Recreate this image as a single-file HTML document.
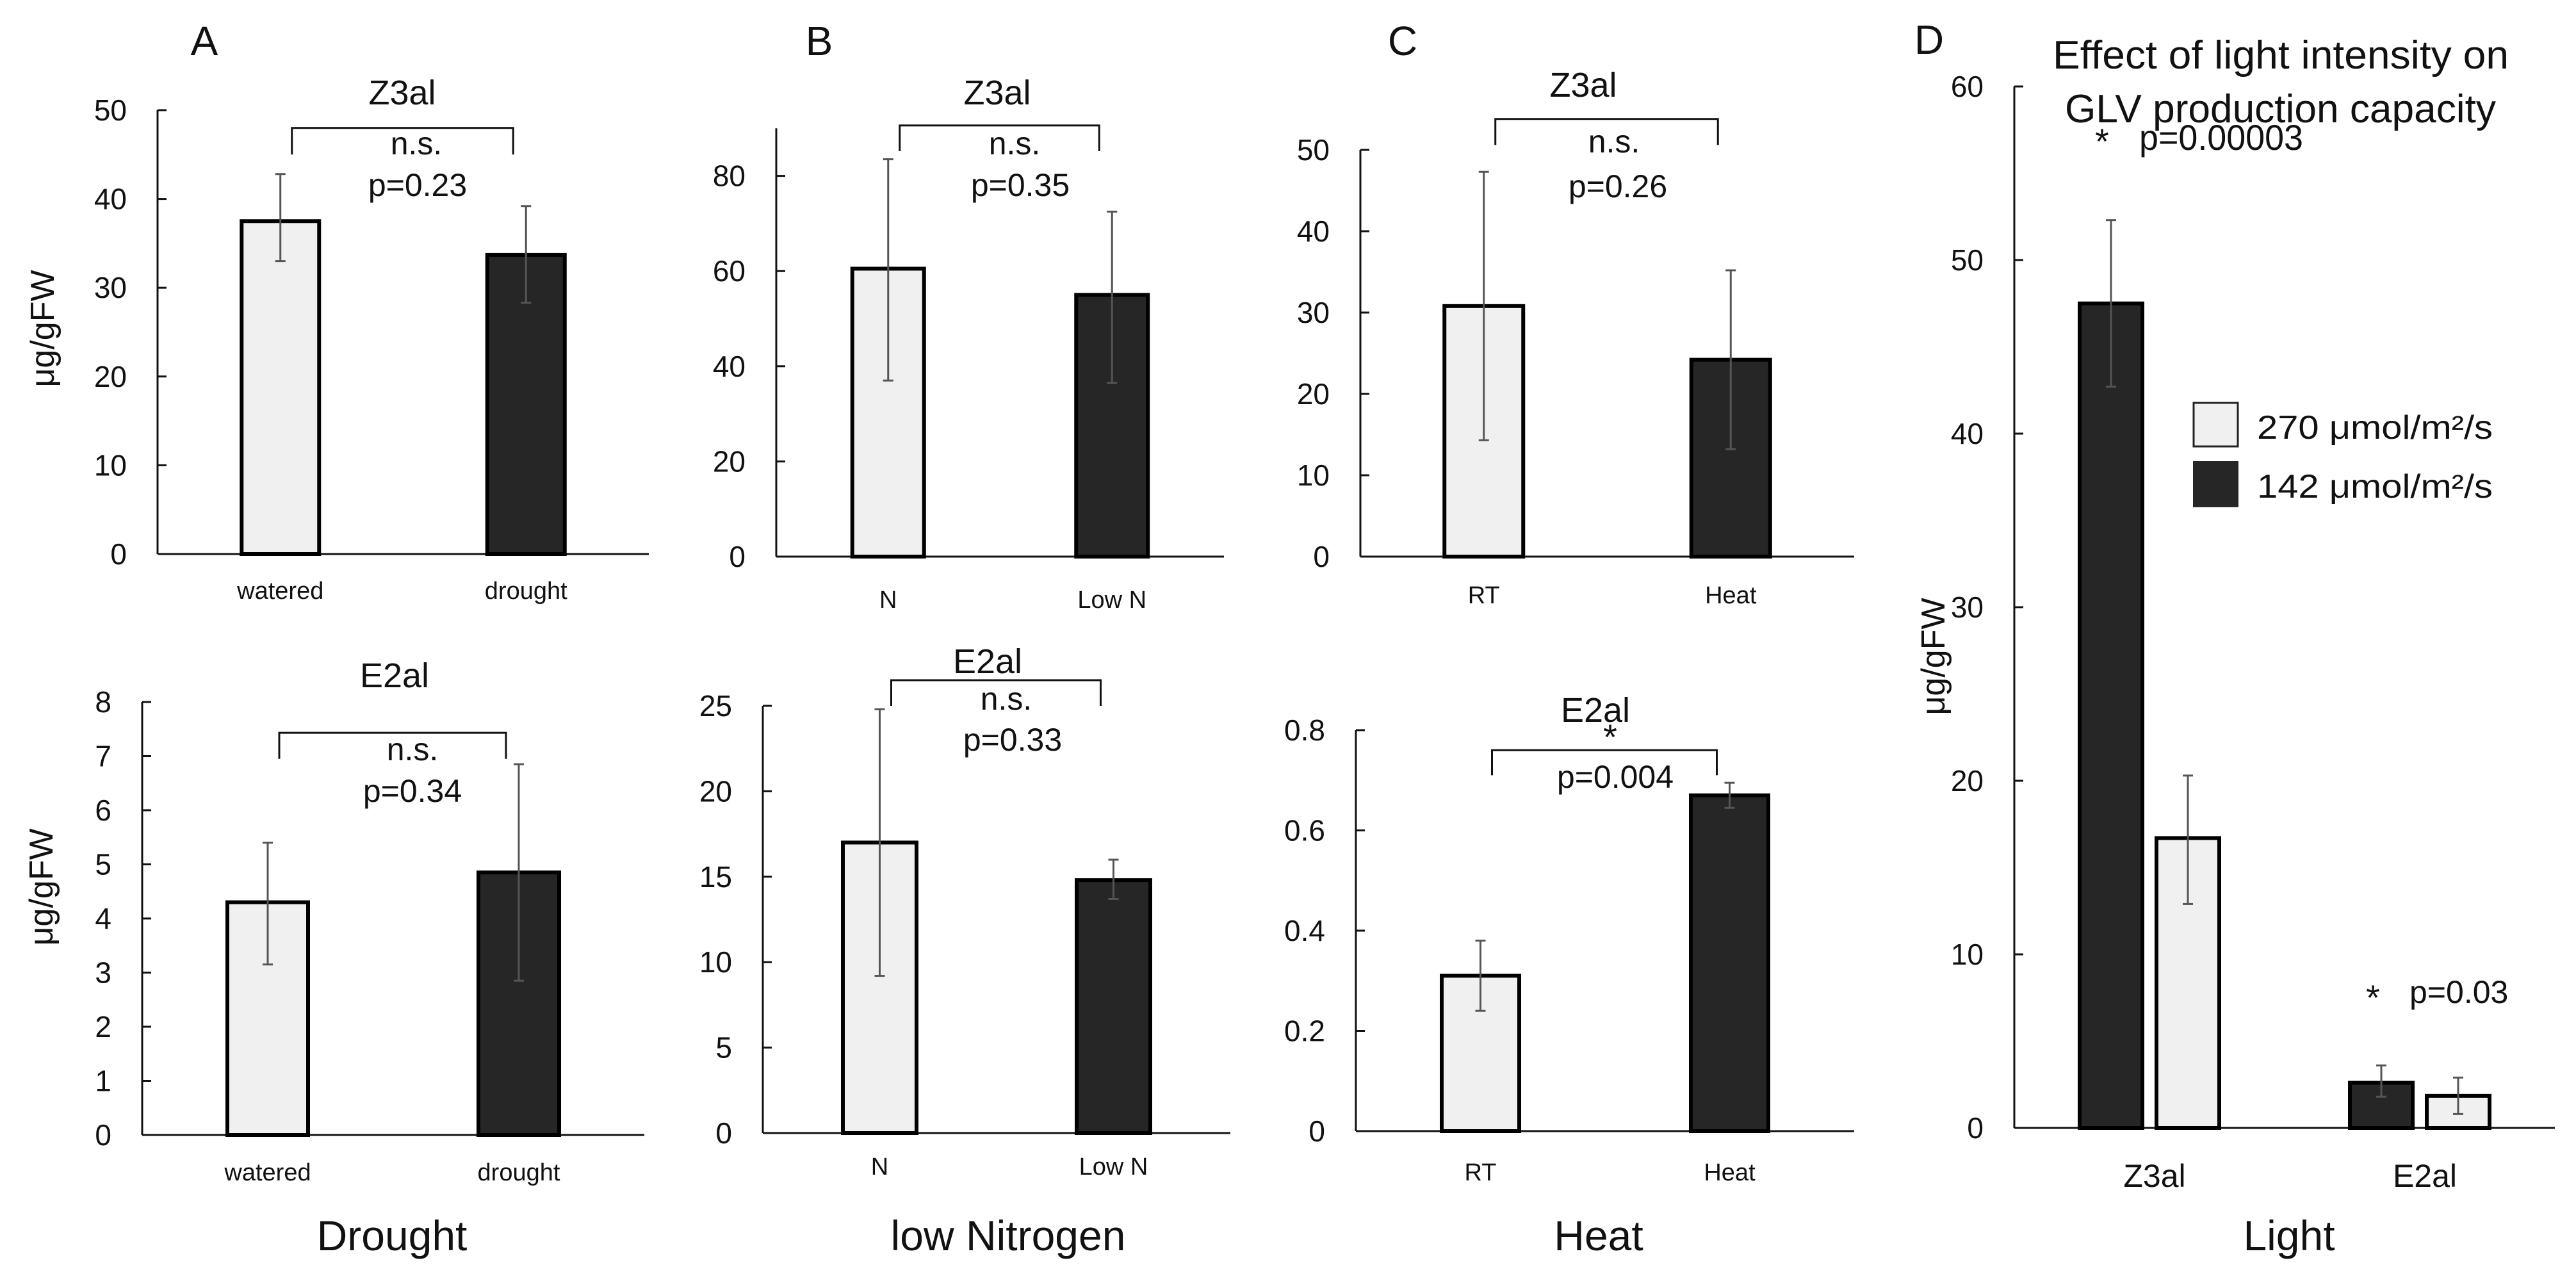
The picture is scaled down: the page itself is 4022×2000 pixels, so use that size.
<!DOCTYPE html>
<html><head><meta charset="utf-8"><style>
html,body{margin:0;padding:0;background:#fff}
svg{display:block}
text{font-family:"Liberation Sans",sans-serif;fill:#111}
</style></head><body>
<svg id="fig" width="4022" height="2000" viewBox="0 0 4022 2000" xmlns="http://www.w3.org/2000/svg">
<g id="static">
<text x="319" y="86" font-size="64" text-anchor="middle">A</text>
<text x="1279" y="86" font-size="64" text-anchor="middle">B</text>
<text x="2190" y="86" font-size="64" text-anchor="middle">C</text>
<text x="3012" y="84" font-size="64" text-anchor="middle">D</text>
<text x="628" y="163" font-size="54" text-anchor="middle">Z3al</text>
<text x="1557" y="163" font-size="54" text-anchor="middle">Z3al</text>
<text x="2472" y="151" font-size="54" text-anchor="middle">Z3al</text>
<text x="616" y="1073" font-size="54" text-anchor="middle">E2al</text>
<text x="1542" y="1051" font-size="54" text-anchor="middle">E2al</text>
<text x="2491" y="1127" font-size="54" text-anchor="middle">E2al</text>
<text x="650" y="241" font-size="50" text-anchor="middle">n.s.</text>
<text x="652" y="306" font-size="50" text-anchor="middle">p=0.23</text>
<text x="1584" y="241" font-size="50" text-anchor="middle">n.s.</text>
<text x="1593" y="306" font-size="50" text-anchor="middle">p=0.35</text>
<text x="2520" y="238" font-size="50" text-anchor="middle">n.s.</text>
<text x="2526" y="308" font-size="50" text-anchor="middle">p=0.26</text>
<text x="644" y="1187" font-size="50" text-anchor="middle">n.s.</text>
<text x="644" y="1252" font-size="50" text-anchor="middle">p=0.34</text>
<text x="1571" y="1108" font-size="50" text-anchor="middle">n.s.</text>
<text x="1581" y="1172" font-size="50" text-anchor="middle">p=0.33</text>
<text x="2514" y="1170" font-size="56" text-anchor="middle">*</text>
<text x="2522" y="1230" font-size="50" text-anchor="middle">p=0.004</text>
<text x="612" y="1952" font-size="66" text-anchor="middle">Drought</text>
<text x="1574" y="1952" font-size="66" text-anchor="middle">low Nitrogen</text>
<text x="2496" y="1952" font-size="66" text-anchor="middle">Heat</text>
<text x="3574" y="1952" font-size="66" text-anchor="middle">Light</text>
<text x="3205" y="107" font-size="62" textLength="712" lengthAdjust="spacingAndGlyphs">Effect of light intensity on</text>
<text x="3224" y="191" font-size="62" textLength="673" lengthAdjust="spacingAndGlyphs">GLV production capacity</text>
<text x="3282" y="240" font-size="56" text-anchor="middle">*</text>
<text x="3340" y="234" font-size="56" textLength="256" lengthAdjust="spacingAndGlyphs">p=0.00003</text>
<text x="3705" y="1577" font-size="56" text-anchor="middle">*</text>
<text x="3762" y="1566" font-size="50">p=0.03</text>
<text transform="translate(84,513) rotate(-90)" font-size="52" text-anchor="middle">μg/gFW</text>
<text transform="translate(82,1385) rotate(-90)" font-size="52" text-anchor="middle">μg/gFW</text>
<text transform="translate(3036,1025) rotate(-90)" font-size="52" text-anchor="middle">μg/gFW</text>
<g>
<rect x="3425" y="629" width="69" height="68" fill="#f0f0f0" stroke="#222" stroke-width="3"/>
<text x="3524" y="685" font-size="52" textLength="368" lengthAdjust="spacingAndGlyphs">270 μmol/m²/s</text>
<rect x="3424" y="720" width="71" height="72" fill="#262626"/>
<text x="3524" y="777" font-size="52" textLength="368" lengthAdjust="spacingAndGlyphs">142 μmol/m²/s</text>
</g>
</g>
<g id="charts"></g>
</svg>
<script>
// ---- data ----
const aTopCats = ["watered", "drought"];
const aTopVals = [37.5, 33.7];
const aTopLo = [33.0, 28.3];
const aTopHi = [42.8, 39.2];
const aTopTicks = [0, 10, 20, 30, 40, 50];

const aBotCats = ["watered", "drought"];
const aBotVals = [4.3, 4.85];
const aBotLo = [3.15, 2.85];
const aBotHi = [5.4, 6.85];
const aBotTicks = [0, 1, 2, 3, 4, 5, 6, 7, 8];

const bTopCats = ["N", "Low N"];
const bTopVals = [60.5, 55.0];
const bTopLo = [37.0, 36.5];
const bTopHi = [83.5, 72.5];
const bTopTicks = [0, 20, 40, 60, 80];

const bBotCats = ["N", "Low N"];
const bBotVals = [17.0, 14.8];
const bBotLo = [9.2, 13.7];
const bBotHi = [24.8, 16.0];
const bBotTicks = [0, 5, 10, 15, 20, 25];

const cTopCats = ["RT", "Heat"];
const cTopVals = [30.8, 24.2];
const cTopLo = [14.3, 13.2];
const cTopHi = [47.3, 35.2];
const cTopTicks = [0, 10, 20, 30, 40, 50];

const cBotCats = ["RT", "Heat"];
const cBotVals = [0.31, 0.67];
const cBotLo = [0.24, 0.645];
const cBotHi = [0.38, 0.695];
const cBotTicks = [0, 0.2, 0.4, 0.6, 0.8];
const cBotTickLabels = ["0", "0.2", "0.4", "0.6", "0.8"];

const dCats = ["Z3al", "E2al"];
const dDarkVals = [47.5, 2.6];
const dDarkLo = [42.7, 1.8];
const dDarkHi = [52.3, 3.6];
const dLightVals = [16.7, 1.85];
const dLightLo = [12.9, 0.8];
const dLightHi = [20.3, 2.9];
const dTicks = [0, 10, 20, 30, 40, 50, 60];

const LIGHT = "#f0f0f0", DARK = "#262626";
const NS = "http://www.w3.org/2000/svg";
const root = document.getElementById("charts");

function mk(tag, attrs, parent) {
  const e = document.createElementNS(NS, tag);
  for (const k in attrs) e.setAttribute(k, attrs[k]);
  (parent || root).appendChild(e);
  return e;
}

function axes(L, ticks, labels, name) {
  const g = mk("g", {});
  
  
  const y = v => L.y0 - v * L.ppu;
  const ya = mk("line", {x1: L.x0, x2: L.x0, y1: L.y0, y2: y(L.top), stroke: "#111", "stroke-width": 3}, g);
  
  
  const xa = mk("line", {x1: L.x0, x2: L.x1, y1: L.y0, y2: L.y0, stroke: "#111", "stroke-width": 3}, g);
  
  
  ticks.forEach((t, i) => {
    const tl = mk("line", {x1: L.x0, x2: L.x0 + 14, y1: y(t), y2: y(t), stroke: "#111", "stroke-width": 3}, g);
    
    
    const tx = mk("text", {x: L.x0 - 48, y: y(t) + 16, "font-size": 46, "text-anchor": "end"}, g);
    
    
    tx.textContent = labels ? labels[i] : String(t);
  });
  return y;
}

function errbar(x, yS, lo, hi, name) {
  const g = mk("g", {stroke: "#555", "stroke-width": 3});
  
  
  mk("line", {x1: x, x2: x, y1: yS(lo), y2: yS(hi)}, g);
  mk("line", {x1: x - 8, x2: x + 8, y1: yS(lo), y2: yS(lo)}, g);
  mk("line", {x1: x - 8, x2: x + 8, y1: yS(hi), y2: yS(hi)}, g);
}

function bracket(xa, xb, yS, v, legV, name) {
  const p = mk("path", {d: `M${xa},${yS(legV)} L${xa},${yS(v)} L${xb},${yS(v)} L${xb},${yS(legV)}`, fill: "none", stroke: "#111", "stroke-width": 3});
  
  
}

function twoBar(L, cats, vals, lo, hi, ticks, labels, br, name, catY) {
  const y = axes(L, ticks, labels, name);
  const xc = i => L.x0 + (L.x1 - L.x0) * (0.25 + 0.5 * i);
  const fills = [LIGHT, DARK];
  cats.forEach((c, i) => {
    const r = mk("rect", {x: xc(i) - L.bw / 2, y: y(vals[i]), width: L.bw, height: L.y0 - y(vals[i]), fill: fills[i], stroke: "#000", "stroke-width": 6});
    
    
    errbar(xc(i), y, lo[i], hi[i], name + '-error-bar');
    const t = mk("text", {x: xc(i), y: catY, "font-size": 38, "text-anchor": "middle"});
    
    
    t.textContent = c;
  });
  bracket(xc(0) + 18, xc(1) - 20, y, br[0], br[1], name + '-significance-bracket');
}

twoBar({x0: 246, x1: 1013, y0: 865, ppu: 13.86, top: 50, bw: 121}, aTopCats, aTopVals, aTopLo, aTopHi, aTopTicks, null, [48, 45], "panel-a-z3al", 935);
twoBar({x0: 222, x1: 1006, y0: 1772, ppu: 84.5, top: 8, bw: 126}, aBotCats, aBotVals, aBotLo, aBotHi, aBotTicks, null, [7.43, 6.95], "panel-a-e2al", 1843);
twoBar({x0: 1212, x1: 1911, y0: 869, ppu: 7.43, top: 90, bw: 112}, bTopCats, bTopVals, bTopLo, bTopHi, bTopTicks, null, [90.6, 85.2], "panel-b-z3al", 949);
twoBar({x0: 1191, x1: 1921, y0: 1769, ppu: 26.68, top: 25, bw: 115}, bBotCats, bBotVals, bBotLo, bBotHi, bBotTicks, null, [26.5, 25], "panel-b-e2al", 1834);
twoBar({x0: 2124, x1: 2895, y0: 869, ppu: 12.7, top: 50, bw: 123}, cTopCats, cTopVals, cTopLo, cTopHi, cTopTicks, null, [53.8, 50.6], "panel-c-z3al", 942);
twoBar({x0: 2117, x1: 2895, y0: 1766, ppu: 782.5, top: 0.8, bw: 121}, cBotCats, cBotVals, cBotLo, cBotHi, cBotTicks, cBotTickLabels, [0.76, 0.71], "panel-c-e2al", 1843);

// Panel D grouped bars
(function () {
  const L = {x0: 3145, x1: 3989, y0: 1761, ppu: 27.1, top: 60, bw: 98, gap: 22};
  const y = axes(L, dTicks, null, "panel-d");
  const gc = i => L.x0 + (L.x1 - L.x0) * (0.25 + 0.5 * i);
  dCats.forEach((c, i) => {
    const xd = gc(i) - (L.bw + L.gap) / 2, xl = gc(i) + (L.bw + L.gap) / 2;
    const rd = mk("rect", {x: xd - L.bw / 2, y: y(dDarkVals[i]), width: L.bw, height: L.y0 - y(dDarkVals[i]), fill: DARK, stroke: "#000", "stroke-width": 6});
    
    
    errbar(xd, y, dDarkLo[i], dDarkHi[i], 'panel-d-error-bar-142');
    const rl = mk("rect", {x: xl - L.bw / 2, y: y(dLightVals[i]), width: L.bw, height: L.y0 - y(dLightVals[i]), fill: LIGHT, stroke: "#000", "stroke-width": 6});
    
    
    errbar(xl, y, dLightLo[i], dLightHi[i], 'panel-d-error-bar-270');
    const t = mk("text", {x: gc(i) + 8, y: 1853, "font-size": 50, "text-anchor": "middle"});
    
    
    t.textContent = c;
  });
})();
</script>
</body></html>
